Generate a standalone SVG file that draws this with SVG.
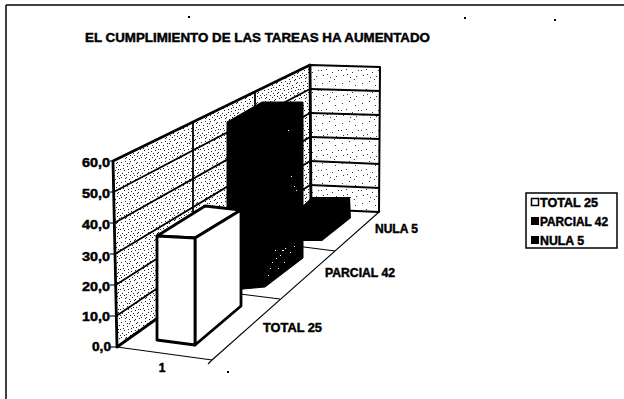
<svg xmlns="http://www.w3.org/2000/svg" width="624" height="399" viewBox="0 0 624 399">
<style>
.t{font-family:"Liberation Sans",Arial,sans-serif;font-weight:bold;fill:#000;stroke:#000;stroke-width:0.45}
.thick{stroke:#000;stroke-width:2.8;fill:none;stroke-linejoin:round;stroke-linecap:round}
.grid{stroke:#000;stroke-width:1.8;fill:none}
.thin{stroke:#000;stroke-width:1.1;fill:none}
</style>
<defs>
<pattern id="stL" width="20" height="20" patternUnits="userSpaceOnUse">
<rect width="20" height="20" fill="#fff"/>
<path fill="#222" d="M1 2h1v1h-1zM5 1h1v1h-1zM9 3h1v1h-1zM14 0h1v1h-1zM17 2h1v1h-1zM3 5h1v1h-1zM7 6h1v1h-1zM12 5h1v1h-1zM16 7h1v1h-1zM19 5h1v1h-1zM0 9h1v1h-1zM4 10h1v1h-1zM8 9h1v1h-1zM11 11h1v1h-1zM15 10h1v1h-1zM18 12h1v1h-1zM2 13h1v1h-1zM6 14h1v1h-1zM10 15h1v1h-1zM13 13h1v1h-1zM17 16h1v1h-1zM1 17h1v1h-1zM5 18h1v1h-1zM9 19h1v1h-1zM12 17h1v1h-1zM15 19h1v1h-1zM19 18h1v1h-1zM7 3h1v1h-1zM11 8h1v1h-1zM3 8h1v1h-1zM14 15h1v1h-1zM8 12h1v1h-1zM16 3h1v1h-1zM0 15h1v1h-1zM18 9h1v1h-1zM6 17h1v1h-1zM10 1h1v1h-1zM13 7h1v1h-1zM4 15h1v1h-1zM17 13h1v1h-1z"/>
</pattern>
<pattern id="stB" width="20" height="20" patternUnits="userSpaceOnUse">
<rect width="20" height="20" fill="#fff"/>
<path fill="#333" d="M2 3h1v1h-1zM9 1h1v1h-1zM15 5h1v1h-1zM6 9h1v1h-1zM12 12h1v1h-1zM18 10h1v1h-1zM3 15h1v1h-1zM10 17h1v1h-1zM16 16h1v1h-1zM1 10h1v1h-1zM7 14h1v1h-1zM14 19h1v1h-1z"/>
</pattern>
</defs>
<rect width="624" height="399" fill="#fff"/>
<g id="frame">
<line x1="6" y1="5" x2="624" y2="5" stroke="#000" stroke-width="1.5"/>
<line x1="6" y1="5" x2="6" y2="399" stroke="#000" stroke-width="1.5"/>
<rect x="188" y="16" width="2" height="2" fill="#000"/>
<rect x="464" y="17" width="2" height="2" fill="#000"/>
<rect x="554" y="19" width="2" height="2" fill="#000"/>
<rect x="227" y="371" width="2" height="2" fill="#000"/>
</g>
<g id="title">
<text class="t" x="85" y="42" font-size="13.2" textLength="345" lengthAdjust="spacingAndGlyphs">EL CUMPLIMIENTO DE LAS TAREAS HA AUMENTADO</text>
</g>
<g id="walls">
<polygon points="113,161 310,65 311,209 117,347" fill="url(#stL)"/>
<polygon points="310,65 380,67 379,212 311,209" fill="url(#stB)"/>
<polygon points="117,347 311,209 379,212 212,360" fill="#fff"/>
</g>
<g id="connectors">
<g class="grid">
<line x1="113.7" y1="192" x2="310" y2="89"/>
<line x1="114.3" y1="223" x2="310" y2="113"/>
<line x1="115" y1="254" x2="310" y2="137"/>
<line x1="115.7" y1="285" x2="310" y2="161"/>
<line x1="116.3" y1="316" x2="310" y2="185"/>
<line x1="193" y1="122" x2="193" y2="293"/>
<line x1="255" y1="92" x2="255" y2="249"/>
<line x1="310" y1="89" x2="380" y2="91"/>
<line x1="310" y1="113" x2="380" y2="115"/>
<line x1="310" y1="137" x2="380" y2="139"/>
<line x1="310" y1="161" x2="380" y2="164"/>
<line x1="310" y1="185" x2="380" y2="188"/>
</g>
<g class="thin">
<line x1="117" y1="347" x2="212" y2="360"/>
<line x1="212" y1="360" x2="379" y2="212"/>
<line x1="280" y1="299" x2="200" y2="289"/>
<line x1="335" y1="251" x2="265" y2="242"/>
<line x1="212" y1="360" x2="208" y2="364"/>
<line x1="110" y1="161" x2="114" y2="161"/>
<line x1="110" y1="192" x2="114" y2="192"/>
<line x1="110" y1="223" x2="115" y2="223"/>
<line x1="110" y1="254" x2="115" y2="254"/>
<line x1="110" y1="285" x2="116" y2="285"/>
<line x1="110" y1="316" x2="116" y2="316"/>
<line x1="110" y1="347" x2="117" y2="347"/>
</g>
<g class="thick">
<polygon points="113,161 310,65 311,209 117,347"/>
<polygon points="310,65 380,67 379,212 311,209" stroke-width="2"/>
</g>
</g>
<g id="bar-nula">
<polygon points="296,212 312,197 350,197 351,218 322,241 300,241" fill="#000"/>
</g>
<g id="bar-parcial">
<polygon points="227,122 262,102 303,102 303,258 265,287 243,289 227,289" fill="#000" stroke="#000" stroke-width="1" stroke-linejoin="round"/>
<path d="M275 250h1v1h-1zM280 255h1v1h-1zM285 248h1v1h-1zM290 252h1v1h-1zM272 262h1v1h-1zM278 268h1v1h-1zM268 275h1v1h-1zM284 262h1v1h-1zM294 246h1v1h-1zM288 130h1v1h-1zM291 176h1v1h-1zM294 186h1v1h-1zM296 190h1v1h-1zM276 258h1v1h-1zM282 250h2v1h-2zM270 268h1v1h-1z" fill="#fff"/>
</g>
<g id="bar-total" class="thick">
<polygon points="157,236 205,206 241,210 195,238" fill="#fff"/>
<polygon points="195,238 241,210 241,306 195,345" fill="#fff"/>
<polygon points="157,236 195,238 195,345 157,340" fill="#fff"/>
</g>
<g id="axis-labels">
<text class="t" x="82" y="167" font-size="12" textLength="28" lengthAdjust="spacingAndGlyphs">60,0</text>
<text class="t" x="82" y="198" font-size="12" textLength="28" lengthAdjust="spacingAndGlyphs">50,0</text>
<text class="t" x="82" y="229" font-size="12" textLength="28" lengthAdjust="spacingAndGlyphs">40,0</text>
<text class="t" x="82" y="261" font-size="12" textLength="28" lengthAdjust="spacingAndGlyphs">30,0</text>
<text class="t" x="82" y="291" font-size="12" textLength="28" lengthAdjust="spacingAndGlyphs">20,0</text>
<text class="t" x="82" y="321" font-size="12" textLength="28" lengthAdjust="spacingAndGlyphs">10,0</text>
<text class="t" x="92" y="351" font-size="12" textLength="19" lengthAdjust="spacingAndGlyphs">0,0</text>
<text class="t" x="162" y="372" font-size="12" text-anchor="middle">1</text>
<text class="t" x="263" y="332" font-size="12" textLength="59" lengthAdjust="spacingAndGlyphs">TOTAL 25</text>
<text class="t" x="325" y="277" font-size="12" textLength="70" lengthAdjust="spacingAndGlyphs">PARCIAL 42</text>
<text class="t" x="375" y="233" font-size="12">NULA 5</text>
</g>
<g id="legend">
<rect x="526" y="193" width="91" height="55" fill="#fff" stroke="#000" stroke-width="1.5"/>
<rect x="531.5" y="198.5" width="7" height="7" fill="#fff" stroke="#000" stroke-width="1.5"/>
<rect x="531" y="217" width="8" height="8" fill="#000"/>
<rect x="531" y="236" width="8" height="8" fill="#000"/>
<text class="t" x="540" y="207" font-size="12" textLength="58" lengthAdjust="spacingAndGlyphs">TOTAL 25</text>
<text class="t" x="540" y="226" font-size="12" textLength="68" lengthAdjust="spacingAndGlyphs">PARCIAL 42</text>
<text class="t" x="540" y="245" font-size="12" textLength="44" lengthAdjust="spacingAndGlyphs">NULA 5</text>
</g>
</svg>
